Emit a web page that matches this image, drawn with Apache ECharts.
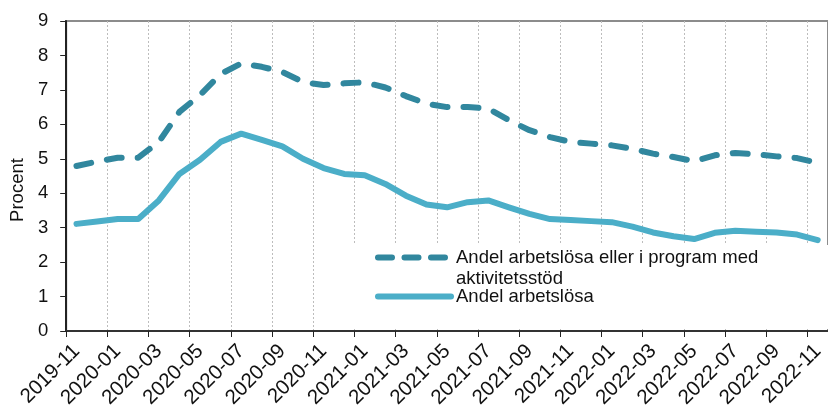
<!DOCTYPE html>
<html>
<head>
<meta charset="utf-8">
<script src="https://cdn.jsdelivr.net/npm/echarts@6/dist/echarts.min.js"></script>
<style>
  html, body { margin: 0; padding: 0; background: #fff; }
  #main { width: 828px; height: 412px; }
</style>
</head>
<body>
<div id="main"></div>
<script>
// månader (kategorier)
const months = [
  '2019-11', '2019-12', '2020-01', '2020-02', '2020-03', '2020-04', '2020-05', '2020-06',
  '2020-07', '2020-08', '2020-09', '2020-10', '2020-11', '2020-12', '2021-01', '2021-02',
  '2021-03', '2021-04', '2021-05', '2021-06', '2021-07', '2021-08', '2021-09', '2021-10',
  '2021-11', '2021-12', '2022-01', '2022-02', '2022-03', '2022-04', '2022-05', '2022-06',
  '2022-07', '2022-08', '2022-09', '2022-10', '2022-11'
]

// Andel arbetslösa eller i program med aktivitetsstöd
const withProgram = [
  4.79, 4.92, 5.03, 5.03, 5.49, 6.36, 6.85, 7.46, 7.77, 7.67, 7.52, 7.23, 7.14,
  7.19, 7.22, 7.07, 6.82, 6.6, 6.5, 6.5, 6.46, 6.12, 5.83, 5.63, 5.49,
  5.44, 5.39, 5.29, 5.15, 5.05, 4.93, 5.1, 5.17, 5.13, 5.07, 5.02, 4.88
]

// Andel arbetslösa
const unemployed = [
  3.11, 3.18, 3.25, 3.25, 3.79, 4.56, 4.97, 5.49, 5.73, 5.55, 5.36, 5.0, 4.73,
  4.56, 4.52, 4.27, 3.93, 3.67, 3.59, 3.74, 3.79, 3.59, 3.4, 3.25, 3.22,
  3.19, 3.16, 3.03, 2.86, 2.75, 2.67, 2.85, 2.91, 2.88, 2.86, 2.8, 2.64
]

const nameProgram = 'Andel arbetslösa eller i program med aktivitetsstöd'
const nameUnemployed = 'Andel arbetslösa'

const font = 'Liberation Sans, Arial, sans-serif'
const colorProgram = '#31879e'
const colorUnemployed = '#4baec8'

const chart = echarts.init(document.getElementById('main'))

const option = {
  animation: false,
  textStyle: { fontFamily: font },
  grid: {
    left: 66,
    right: -9,
    top: 21,
    bottom: 81,
    show: true,
    borderColor: '#8c8c8c',
    borderWidth: 2,
    backgroundColor: 'transparent',
  },
  // vit bakgrund bakom förklaringen (döljer stödlinjerna men inte serierna)
  graphic: [
    {
      type: 'rect',
      z: 1,
      shape: { x: 352, y: 245, width: 480, height: 84 },
      style: { fill: '#fff' },
      silent: true,
    },
  ],
  legend: {
    orient: 'vertical',
    left: 375,
    top: 226,
    padding: 0,
    itemWidth: 73,
    itemHeight: 6,
    itemGap: -3,
    itemStyle: { opacity: 0 },
    lineStyle: { width: 6, cap: 'round' },
    textStyle: { fontSize: 18.5, color: '#111', fontFamily: font, lineHeight: 21 },
    // tom första rad så att ikonen hamnar vid första textraden
    formatter: (name) => (name === nameProgram ? '\nAndel arbetslösa eller i program med\naktivitetsstöd' : name),
    data: [
      { name: nameProgram, lineStyle: { width: 6, type: [14, 12.5], cap: 'round' } },
      { name: nameUnemployed },
    ],
  },
  xAxis: {
    type: 'category',
    data: months,
    boundaryGap: true,
    axisLine: { show: true, lineStyle: { color: '#333', width: 2 } },
    axisTick: { show: true, interval: 1, length: 6, lineStyle: { color: '#222', width: 1 } },
    axisLabel: {
      interval: 1,
      rotate: 45,
      margin: 17,
      fontSize: 20.5,
      color: '#111',
      fontFamily: font,
    },
    splitLine: {
      show: true,
      interval: 1,
      lineStyle: { color: '#bdbdbd', type: [2, 2], width: 1 },
    },
  },
  yAxis: {
    type: 'value',
    min: 0,
    max: 9,
    interval: 1,
    name: 'Procent',
    nameLocation: 'middle',
    nameRotate: 90,
    nameGap: 37,
    nameTextStyle: { fontSize: 18.5, color: '#111', fontFamily: font, padding: [0, 28, 0, 0] },
    axisLine: { show: true, lineStyle: { color: '#222', width: 2 } },
    axisTick: { show: true, inside: false, length: 6, lineStyle: { color: '#222', width: 1 } },
    axisLabel: { margin: 18, fontSize: 18.5, color: '#111', fontFamily: font },
    splitLine: { show: false },
  },
  series: [
    {
      name: nameProgram,
      type: 'line',
      data: withProgram,
      symbol: 'none',
      lineStyle: { color: colorProgram, width: 6, type: [15, 16], cap: 'round', join: 'round' },
      itemStyle: { color: colorProgram },
      z: 3,
    },
    {
      name: nameUnemployed,
      type: 'line',
      data: unemployed,
      symbol: 'none',
      lineStyle: { color: colorUnemployed, width: 6, cap: 'round', join: 'round' },
      itemStyle: { color: colorUnemployed },
      z: 3,
    },
  ],
}

chart.setOption(option)
</script>
</body>
</html>
